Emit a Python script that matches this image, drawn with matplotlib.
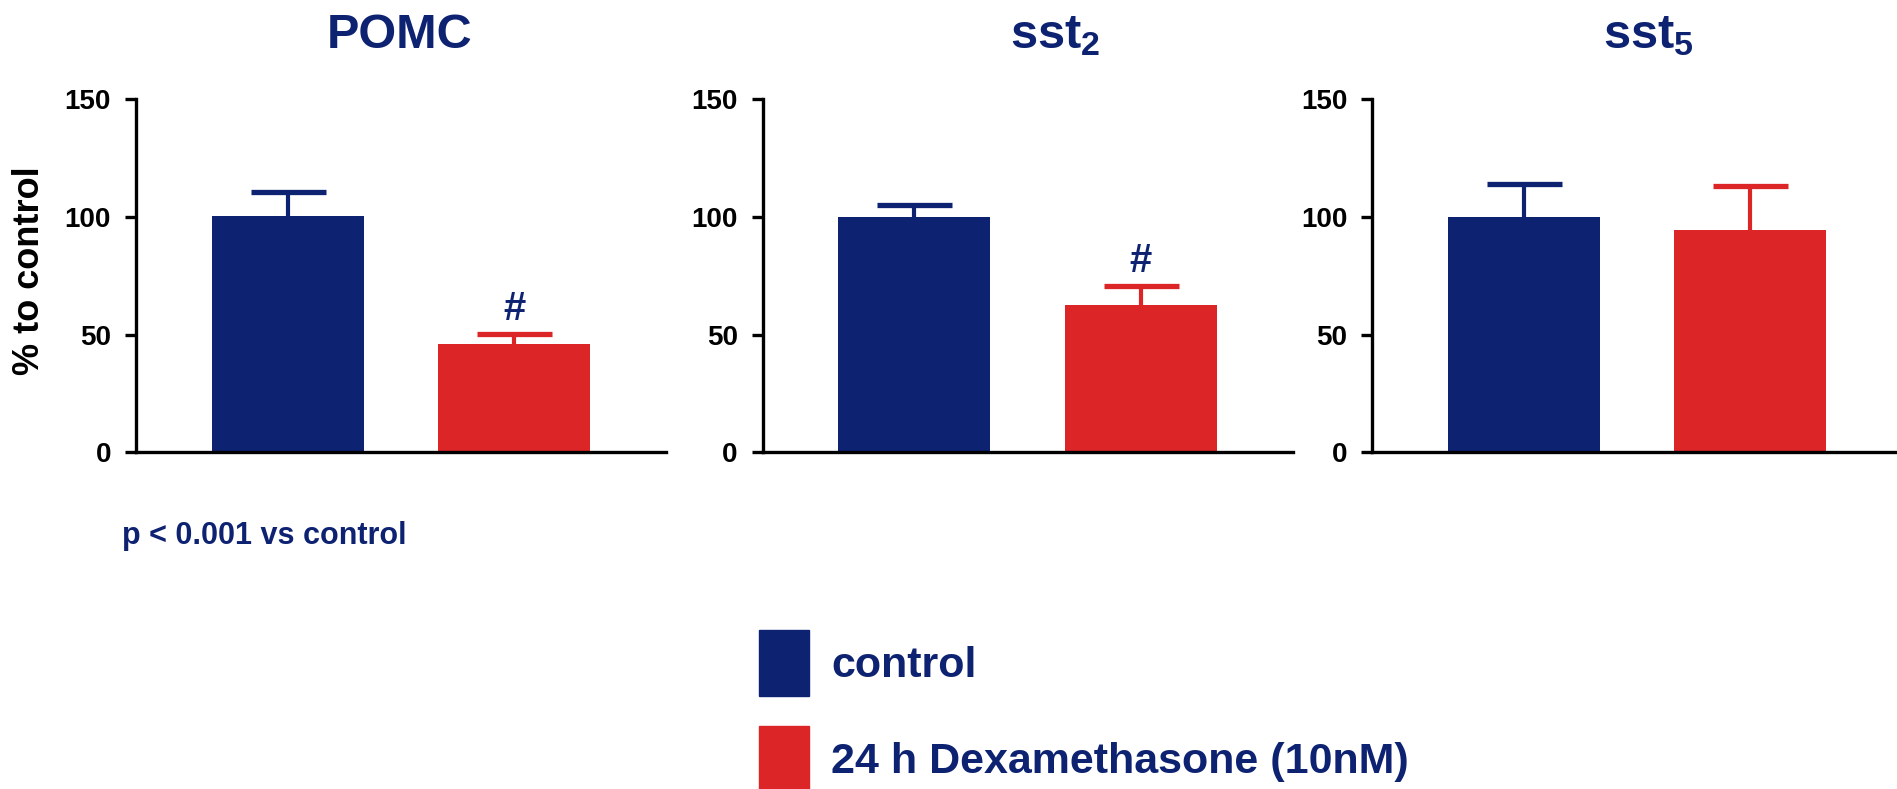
import numpy as np
import matplotlib
matplotlib.use('Agg')
import matplotlib.pyplot as plt
from matplotlib.patches import Patch

plt.rcParams['font.family'] = ['Liberation Sans', 'DejaVu Sans']
plt.rcParams['font.weight'] = 'bold'
plt.rcParams['mathtext.fontset'] = 'custom'
plt.rcParams['mathtext.bf'] = 'Liberation Sans:bold'
plt.rcParams['mathtext.rm'] = 'Liberation Sans:bold'

# mRNA levels, % of control (mean + SEM)
genes = ['POMC', r'$\mathbf{sst_2}$', r'$\mathbf{sst_5}$']
control_mean = [100.5, 100, 100]
control_sem = [10.3, 5.2, 14]
dexa_mean = [46, 62.7, 94.6]
dexa_sem = [4.1, 7.8, 18.7]
signif = ['#', '#', '']
groups = ['control', '24 h Dexamethasone (10nM)']

NAVY = '#0e2272'
RED = '#dc2526'

fig = plt.figure(figsize=(18.97, 7.89), dpi=100)

# left edge of each panel and where its title sits
lefts = [0.0717, 0.4021, 0.7234]
title_x = [0.498, 0.552, 0.52]
width = 0.671

for i in range(3):
    ax = fig.add_axes([lefts[i], 0.4267, 0.2794, 0.4474])
    x = np.array([1, 2])
    means = [control_mean[i], dexa_mean[i]]
    sems = [control_sem[i], dexa_sem[i]]
    cols = [NAVY, RED]
    ax.bar(x, means, width=width, color=cols, zorder=2)
    # symmetric bars drawn underneath, so only the upper half shows
    for xi, m, s, c in zip(x, means, sems, cols):
        ax.errorbar(xi, m, yerr=s, color=c, lw=3, capsize=27,
                    capthick=3.8, zorder=1)
    if signif[i]:
        ax.text(2, dexa_mean[i] + dexa_sem[i] + 11, signif[i], ha='center',
                va='center', fontsize=29, color=NAVY, fontweight='bold')

    ax.set_xlim(0.331, 2.671)
    ax.set_ylim(0, 150)
    ax.set_yticks([0, 50, 100, 150])
    ax.set_xticks([])
    for side in ['top', 'right']:
        ax.spines[side].set_visible(False)
    ax.spines['left'].set_linewidth(2.4)
    ax.spines['bottom'].set_linewidth(2.4)
    ax.tick_params(axis='y', length=8, width=2.4, labelsize=20, pad=10)
    for lab in ax.get_yticklabels():
        lab.set_fontweight('bold')
    ax.set_title(genes[i], x=title_x[i], pad=37, fontsize=35,
                 fontweight='bold', color=NAVY)

fig.text(0.0158, 0.6565, '% to control', rotation=90, ha='center', va='center',
         fontsize=26, fontweight='bold')
fig.text(0.0645, 0.3105, 'p < 0.001 vs control', ha='left', va='baseline',
         fontsize=22, fontweight='bold', color=NAVY)

handles = [Patch(color=NAVY), Patch(color=RED)]
leg = fig.legend(handles, groups, loc='upper left',
                 bbox_to_anchor=(0.4001, 0.2015), frameon=False,
                 borderpad=0, borderaxespad=0, handlelength=1.16,
                 handleheight=1.98, handletextpad=0.51, labelspacing=0.70,
                 prop={'size': 31, 'weight': 'bold'})
for t in leg.get_texts():
    t.set_color(NAVY)

fig.savefig('out.png', dpi=100)
